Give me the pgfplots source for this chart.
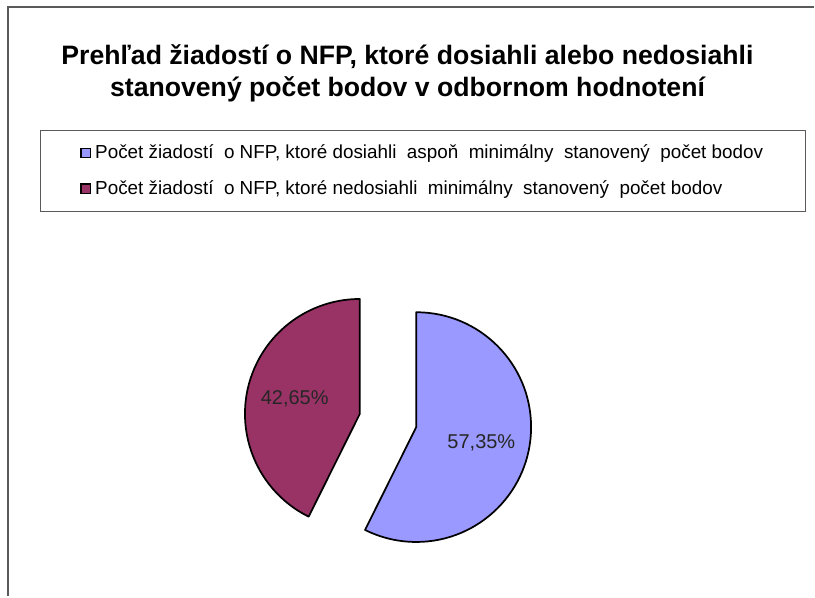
\documentclass[border=0pt]{standalone}
\usepackage{fontspec}
\setmainfont{Liberation Sans}
\usepackage{pgfplots}
\pgfplotsset{compat=1.18}

\definecolor{pieblue}{HTML}{9999FF}
\definecolor{piered}{HTML}{993366}
\definecolor{framegray}{HTML}{5A5A5A}

% shares in percent
\def\valA{57.35} % dosiahli
\def\valB{42.65} % nedosiahli
% pie geometry in pixel units (1 unit = 0.75pt)
\def\pcx{388.5}
\def\pcy{176}
\def\pr{86.25pt}   % 115 px radius
\def\pexp{29}      % explosion
\def\plab{67}      % label distance from slice vertex
\pgfmathsetmacro\angA{90-3.6*\valA}
\pgfmathsetmacro\midA{90-1.8*\valA}
\pgfmathsetmacro\midB{\angA-1.8*\valB}
\pgfmathsetmacro\cxA{\pcx+\pexp*cos(\midA)}
\pgfmathsetmacro\cyA{\pcy+\pexp*sin(\midA)}
\pgfmathsetmacro\cxB{\pcx+\pexp*cos(\midB)}
\pgfmathsetmacro\cyB{\pcy+\pexp*sin(\midB)}
\pgfmathsetmacro\lxA{\cxA+\plab*cos(\midA)}
\pgfmathsetmacro\lyA{\cyA+\plab*sin(\midA)}
\pgfmathsetmacro\lxB{\cxB+\plab*cos(\midB)}
\pgfmathsetmacro\lyB{\cyB+\plab*sin(\midB)}

\begin{document}
\begin{tikzpicture}
\begin{axis}[
    x=0.75pt, y=0.75pt,
    xmin=0, xmax=815, ymin=0, ymax=597,
    hide axis,
    clip=false,
    legend image code/.code={
        \draw[#1, line width=0.9pt] (0pt,-3.6pt) rectangle (7.2pt,3.6pt);
    },
    legend style={
        at={(axis cs:40,467)}, anchor=north west,
        draw=framegray, line width=0.8pt,
        inner xsep=30pt, inner ysep=9pt,
        row sep=11pt,
        font=\fontsize{14.15}{16}\selectfont,
        cells={anchor=west},
    },
]
\path (axis cs:0,0) rectangle (axis cs:815,597);

% chart frame (only top and left edge visible)
\draw[framegray, line width=1.5pt] (axis cs:8,0) -- (axis cs:8,590) -- (axis cs:815,590);

\addlegendimage{fill=pieblue, draw=black}
\addlegendentry{\hspace{1pt}Počet žiadostí\ \ o NFP, ktoré dosiahli\ \ aspoň\ \ minimálny\ \ stanovený\ \ počet bodov\hspace{3.5pt}}
\addlegendimage{fill=piered, draw=black}
\addlegendentry{\hspace{1pt}Počet žiadostí\ \ o NFP, ktoré nedosiahli\ \ minimálny\ \ stanovený\ \ počet bodov}

% slices
\filldraw[fill=pieblue, draw=black, line width=1.3pt, line join=round]
    (axis cs:\cxA,\cyA) -- ++(90:\pr) arc[start angle=90, end angle=\angA, radius=\pr] -- cycle;
\filldraw[fill=piered, draw=black, line width=1.3pt, line join=round]
    (axis cs:\cxB,\cyB) -- ++(\angA:\pr) arc[start angle=\angA, end angle=-270, radius=\pr] -- cycle;

% data labels
\node[font=\fontsize{15}{18}\selectfont, text=black!85] at (axis cs:\lxA,\lyA) {57,35\%};
\node[font=\fontsize{15}{18}\selectfont, text=black!85] at (axis cs:\lxB,\lyB) {42,65\%};

% title
\node[align=center, font=\fontsize{20}{24}\selectfont\bfseries] at (axis cs:408,524)
    {Prehľad žiadostí o NFP, ktoré dosiahli alebo nedosiahli\\stanovený počet bodov v odbornom hodnotení};
\end{axis}
\end{tikzpicture}
\end{document}
